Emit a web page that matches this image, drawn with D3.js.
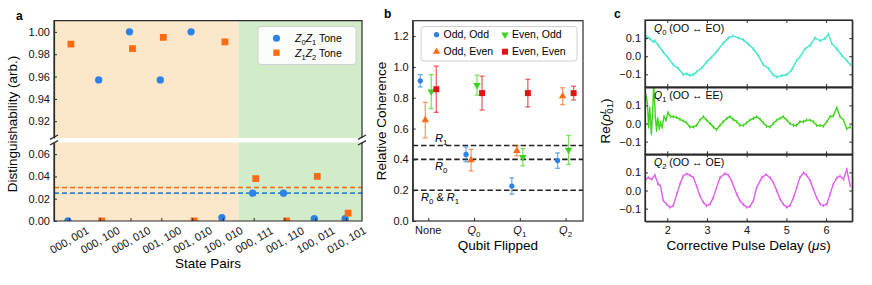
<!DOCTYPE html>
<html>
<head>
<meta charset="utf-8">
<script src="https://cdn.jsdelivr.net/npm/d3@7"></script>
<style>
  body { margin: 0; background: #fff; }
  svg { display: block; font-family: "Liberation Sans", Arial, sans-serif; }
</style>
</head>
<body>
<script>
// ---- panel a data ----
var statePairs = ["000, 001", "000, 100", "000, 010", "001, 100", "001, 010",
                  "100, 010", "000, 111", "001, 110", "100, 011", "010, 101"];
var z0z1Tone = [0.000, 0.957, 1.000, 0.957, 1.000, 0.003, 0.025, 0.025, 0.002, 0.002];
var z1z2Tone = [0.989, 0.000, 0.985, 0.995, 0.000, 0.991, 0.038, 0.000, 0.040, 0.007];
var z0z1Threshold = 0.025;
var z1z2Threshold = 0.030;
var nOrangeRegion = 6; // first six pairs sit on the orange background

// ---- panel b data ----
var qubitFlipped = ["None", "Q0", "Q1", "Q2"];
var oddOdd      = [0.910, 0.432, 0.227, 0.392];
var oddOddErr   = [0.040, 0.048, 0.053, 0.050];
var oddEven     = [0.655, 0.395, 0.455, 0.810];
var oddEvenErr  = [0.115, 0.070, 0.032, 0.055];
var evenOdd     = [0.840, 0.882, 0.414, 0.461];
var evenOddErr  = [0.110, 0.065, 0.056, 0.094];
var evenEven    = [0.855, 0.830, 0.830, 0.830];
var evenEvenErr = [0.150, 0.110, 0.090, 0.045];
var refLevels = [0.49, 0.40, 0.20];

// ---- panel c data ----
var q0Delay = [1.48, 1.56, 1.65, 1.69, 1.77, 1.90, 2.03, 2.15, 2.28, 2.40, 2.49, 2.57, 2.66, 2.74,
               2.87, 2.99, 3.12, 3.24, 3.41, 3.54, 3.66, 3.79, 3.92, 4.04, 4.17, 4.29, 4.42, 4.55,
               4.67, 4.76, 4.88, 5.01, 5.13, 5.26, 5.34, 5.47, 5.60, 5.72, 5.85, 5.97, 6.06, 6.14,
               6.27, 6.39, 6.52, 6.61];
var q0Re = [0.108, 0.097, 0.079, 0.086, 0.061, 0.022, -0.011, -0.047, -0.068, -0.101, -0.097, -0.106,
            -0.101, -0.086, -0.065, -0.032, -0.005, 0.025, 0.072, 0.101, 0.112, 0.101, 0.090, 0.067,
            0.040, 0.004, -0.047, -0.068, -0.104, -0.115, -0.108, -0.101, -0.077, -0.023, -0.005,
            0.040, 0.061, 0.101, 0.085, 0.097, 0.121, 0.072, 0.040, 0.007, -0.023, -0.047];
var q1Delay = [1.46, 1.50, 1.53, 1.56, 1.60, 1.63, 1.66, 1.70, 1.73, 1.76, 1.80, 1.83, 1.87, 1.92,
               1.97, 2.02, 2.08, 2.15, 2.24, 2.32, 2.40, 2.49, 2.57, 2.66, 2.74, 2.82, 2.91, 2.99,
               3.08, 3.16, 3.24, 3.33, 3.41, 3.50, 3.58, 3.66, 3.75, 3.83, 3.92, 4.00, 4.08, 4.17,
               4.25, 4.34, 4.42, 4.50, 4.59, 4.67, 4.76, 4.84, 4.92, 5.01, 5.09, 5.18, 5.26, 5.34,
               5.43, 5.51, 5.60, 5.68, 5.76, 5.85, 5.93, 6.02, 6.10, 6.18, 6.27, 6.35, 6.44, 6.52, 6.61];
var q1Re = [0.162, 0.114, -0.019, 0.086, -0.057, 0.057, 0.219, 0.038, -0.038, 0.029, -0.029, 0.004,
            -0.019, 0.038, 0.019, 0.061, 0.038, 0.038, 0.034, 0.023, 0.015, 0.004, -0.019, -0.019,
            -0.010, 0.019, 0.038, 0.019, 0.000, -0.019, -0.034, -0.010, 0.010, 0.029, 0.038, 0.023,
            0.010, -0.010, -0.010, 0.004, 0.019, 0.029, 0.038, 0.023, 0.004, -0.015, -0.019, 0.000,
            0.019, 0.029, 0.038, 0.019, 0.000, -0.010, -0.010, 0.010, 0.010, 0.019, 0.019, 0.010,
            -0.010, -0.010, -0.015, 0.010, 0.038, 0.042, 0.086, 0.038, 0.019, -0.029, -0.019];
var q2Delay = [1.46, 1.52, 1.61, 1.69, 1.77, 1.83, 1.90, 1.98, 2.07, 2.15, 2.24, 2.32, 2.40, 2.49,
               2.57, 2.66, 2.74, 2.82, 2.91, 2.99, 3.08, 3.16, 3.24, 3.33, 3.45, 3.54, 3.62, 3.75,
               3.83, 3.92, 4.00, 4.08, 4.17, 4.25, 4.38, 4.49, 4.59, 4.67, 4.76, 4.84, 4.92, 5.01,
               5.09, 5.18, 5.26, 5.34, 5.43, 5.51, 5.60, 5.68, 5.76, 5.85, 5.93, 6.02, 6.10, 6.18,
               6.27, 6.35, 6.44, 6.52, 6.61];
var q2Re = [0.062, 0.071, 0.062, 0.085, 0.035, 0.025, -0.056, -0.075, -0.093, -0.084, -0.020, 0.035,
            0.080, 0.093, 0.085, 0.071, 0.025, -0.029, -0.065, -0.084, -0.075, -0.038, 0.016, 0.071,
            0.093, 0.085, 0.053, -0.020, -0.056, -0.078, -0.093, -0.089, -0.056, 0.016, 0.071, 0.089,
            0.071, 0.044, -0.002, -0.047, -0.075, -0.093, -0.084, -0.038, 0.016, 0.071, 0.098, 0.085,
            0.053, 0.007, -0.038, -0.075, -0.084, -0.075, -0.020, 0.035, 0.071, 0.080, 0.062, 0.116, 0.025];
var delayTicks = [2, 3, 4, 5, 6];
var reTicks = [-0.1, 0.0, 0.1];

var blue = "#2d82ea", orange = "#ff6a12", green = "#3ad41c", red = "#e01414";
var ink = "#2b2b2b";

var svg = d3.select("body").append("svg").attr("width", 872).attr("height", 285);

// write italic / sub / sup pieces into a text element
function rich(sel, parts) {
  var shift = 0;
  parts.forEach(function (p) {
    var kind = p[1] || "";
    var t = sel.append("tspan").text(p[0]);
    var target = kind.indexOf("sub") >= 0 ? 3 : (kind.indexOf("sup") >= 0 ? -4 : 0);
    if (target !== shift) { t.attr("dy", target - shift); shift = target; }
    if (target !== 0) t.attr("font-size", "0.72em");
    if (kind.charAt(0) === "i") t.attr("font-style", "italic");
    if (p[2]) t.attr("dx", p[2]);
  });
}

function styleAxis(g) {
  g.selectAll(".domain").attr("stroke", ink).attr("stroke-width", 1.2);
  g.selectAll(".tick line").attr("stroke", ink).attr("stroke-width", 1);
  g.selectAll(".tick text").attr("fill", "#111").attr("font-size", 11);
}

// ================= panel a =================
var aL = 54, aR = 362;
var xA = d3.scaleBand().domain(statePairs).range([aL, aR]);
var yTop = d3.scaleLinear().domain([0.905, 1.01]).range([138, 20.7]);
var yBot = d3.scaleLinear().domain([0, 0.0706]).range([221, 142.3]);
var segs = [
  { y: yTop, y0: 20.7, y1: 138, ticks: [0.92, 0.94, 0.96, 0.98, 1.00] },
  { y: yBot, y0: 142.3, y1: 221, ticks: [0.00, 0.02, 0.04, 0.06] }
];
var xSplit = xA(statePairs[nOrangeRegion]);

segs.forEach(function (s, i) {
  var clipId = "clipA" + i;
  svg.append("clipPath").attr("id", clipId).append("rect")
    .attr("x", aL).attr("y", s.y0).attr("width", aR - aL).attr("height", s.y1 - s.y0);
  s.g = svg.append("g").attr("clip-path", "url(#" + clipId + ")");
  s.g.append("rect").attr("x", aL).attr("y", s.y0).attr("width", xSplit - aL)
    .attr("height", s.y1 - s.y0).attr("fill", "#fde7ca");
  s.g.append("rect").attr("x", xSplit).attr("y", s.y0).attr("width", aR - xSplit)
    .attr("height", s.y1 - s.y0).attr("fill", "#d2ebc9");
  var ax = svg.append("g").attr("transform", "translate(" + aL + ",0)")
    .call(d3.axisLeft(s.y).tickValues(s.ticks).tickFormat(d3.format(".2f")).tickSize(-3).tickSizeOuter(0).tickPadding(4));
  styleAxis(ax);
});

// threshold lines
[[z1z2Threshold, orange], [z0z1Threshold, blue]].forEach(function (d) {
  segs[1].g.append("line").attr("x1", aL).attr("x2", aR)
    .attr("y1", yBot(d[0])).attr("y2", yBot(d[0]))
    .attr("stroke", d[1]).attr("stroke-width", 1.6).attr("stroke-dasharray", "5,3");
});

function drawA(values, shape, color, dx) {
  values.forEach(function (v, i) {
    var s = v > 0.5 ? segs[0] : segs[1];
    var cx = xA(statePairs[i]) + xA.bandwidth() / 2 + dx;
    s.g.append("path")
      .attr("d", d3.symbol().type(shape).size(shape === d3.symbolSquare ? 46 : 42)())
      .attr("transform", "translate(" + cx + "," + s.y(v) + ")")
      .attr("fill", color);
  });
}
drawA(z0z1Tone, d3.symbolCircle, blue, -1.5);
drawA(z1z2Tone, d3.symbolSquare, orange, 1.5);

// spines for the broken axis
var spine = svg.append("g").attr("fill", "none").attr("stroke", ink).attr("stroke-width", 1.2);
spine.append("path").attr("d", "M" + aL + ",138V20.7H" + aR + "V138");
spine.append("path").attr("d", "M" + aL + ",142.3V221H" + aR + "V142.3");
[aL, aR].forEach(function (x) {
  [137.2, 142.8].forEach(function (y) {
    spine.append("line").attr("x1", x - 4).attr("y1", y + 2.2).attr("x2", x + 4).attr("y2", y - 2.2);
  });
});

var axA = svg.append("g").attr("transform", "translate(0,221)")
  .call(d3.axisBottom(xA).tickSize(-3).tickSizeOuter(0).tickFormat(""));
styleAxis(axA);
axA.select(".domain").remove();
svg.append("g").selectAll("text").data(statePairs).enter().append("text")
  .attr("transform", function (d) {
    return "translate(" + (xA(d) + xA.bandwidth() / 2) + ",240) rotate(-30)";
  })
  .attr("text-anchor", "middle").attr("dy", "0.35em").attr("font-size", 11).attr("fill", "#111")
  .text(function (d) { return d; });

svg.append("text").attr("x", (aL + aR) / 2).attr("y", 268).attr("text-anchor", "middle")
  .attr("font-size", 13.5).text("State Pairs");
svg.append("text").attr("transform", "translate(17,124) rotate(-90)").attr("text-anchor", "middle")
  .attr("font-size", 13.5).text("Distinguishability (arb.)");
svg.append("text").attr("x", 16).attr("y", 20).attr("font-weight", "bold").attr("font-size", 12).text("a");

// legend a
svg.append("rect").attr("x", 258).attr("y", 26.5).attr("width", 98).attr("height", 38).attr("rx", 3)
  .attr("fill", "#fff").attr("fill-opacity", 0.9).attr("stroke", "#d0d0d0");
[[d3.symbolCircle, blue, "0", "1"], [d3.symbolSquare, orange, "1", "2"]].forEach(function (d, i) {
  var y = 38.3 + i * 14.4;
  svg.append("path").attr("d", d3.symbol().type(d[0]).size(40)())
    .attr("transform", "translate(276.5," + y + ")").attr("fill", d[1]);
  var t = svg.append("text").attr("x", 295).attr("y", y + 3.8).attr("font-size", 10.5);
  rich(t, [["Z", "i"], [d[2], "sub"], ["Z", "i"], [d[3], "sub"], [" Tone", ""]]);
});

// ================= panel b =================
var bL = 412.7, bR = 583, bT = 20.7, bB = 221;
var xB = d3.scaleLinear().domain([-0.34, 3.38]).range([bL, bR]);
var yB = d3.scaleLinear().domain([0, 1.3]).range([bB, bT]);

var gb = svg.append("g");
refLevels.forEach(function (v) {
  gb.append("line").attr("x1", bL).attr("x2", bR).attr("y1", yB(v)).attr("y2", yB(v))
    .attr("stroke", "#222").attr("stroke-width", 1.6).attr("stroke-dasharray", "5.5,2.8");
});

var triDown = { draw: function (ctx, size) { d3.symbolTriangle.draw(ctx, size); } };
var seriesB = [
  { v: oddOdd, e: oddOddErr, c: blue, shape: d3.symbolCircle, size: 22, rot: 0, dx: -0.175, name: "Odd, Odd" },
  { v: oddEven, e: oddEvenErr, c: orange, shape: d3.symbolTriangle, size: 24, rot: 0, dx: -0.065, name: "Odd, Even" },
  { v: evenOdd, e: evenOddErr, c: green, shape: d3.symbolTriangle, size: 24, rot: 180, dx: 0.065, name: "Even, Odd" },
  { v: evenEven, e: evenEvenErr, c: red, shape: d3.symbolSquare, size: 36, rot: 0, dx: 0.175, name: "Even, Even" }
];
seriesB.forEach(function (s) {
  s.v.forEach(function (v, i) {
    var cx = xB(i + s.dx), lo = yB(v - s.e[i]), hi = yB(v + s.e[i]);
    var eb = gb.append("g").attr("stroke", s.c).attr("stroke-opacity", 0.65).attr("stroke-width", 1.3);
    eb.append("line").attr("x1", cx).attr("x2", cx).attr("y1", lo).attr("y2", hi);
    eb.append("line").attr("x1", cx - 2.5).attr("x2", cx + 2.5).attr("y1", lo).attr("y2", lo);
    eb.append("line").attr("x1", cx - 2.5).attr("x2", cx + 2.5).attr("y1", hi).attr("y2", hi);
    gb.append("path").attr("d", d3.symbol().type(s.shape).size(s.size)())
      .attr("transform", "translate(" + cx + "," + yB(v) + ") rotate(" + s.rot + ")")
      .attr("fill", s.c);
  });
});

var byAx = svg.append("g").attr("transform", "translate(" + bL + ",0)")
  .call(d3.axisLeft(yB).tickValues([0, 0.2, 0.4, 0.6, 0.8, 1.0, 1.2]).tickFormat(d3.format(".1f"))
    .tickSize(-3).tickSizeOuter(0).tickPadding(4));
styleAxis(byAx);
var bxAx = svg.append("g").attr("transform", "translate(0," + bB + ")")
  .call(d3.axisBottom(xB).tickValues([0, 1, 2, 3]).tickSize(-3).tickSizeOuter(0).tickFormat(""));
styleAxis(bxAx);
bxAx.select(".domain").remove();
qubitFlipped.forEach(function (q, i) {
  var t = svg.append("text").attr("x", xB(i)).attr("y", 233.5).attr("text-anchor", "middle")
    .attr("font-size", 11).attr("fill", "#111");
  if (q === "None") t.text(q);
  else rich(t, [["Q", "i"], [q.slice(1), "sub"]]);
});
svg.append("rect").attr("x", bL).attr("y", bT).attr("width", bR - bL).attr("height", bB - bT)
  .attr("fill", "none").attr("stroke", ink).attr("stroke-width", 1.2);

var rl1 = svg.append("text").attr("x", 435).attr("y", 142).attr("font-size", 11);
rich(rl1, [["R", "i"], ["1", "sub"]]);
var rl0 = svg.append("text").attr("x", 435).attr("y", 170).attr("font-size", 11);
rich(rl0, [["R", "i"], ["0", "sub"]]);
var rl01 = svg.append("text").attr("x", 421).attr("y", 201).attr("font-size", 11);
rich(rl01, [["R", "i"], ["0", "sub"], [" & ", ""], ["R", "i"], ["1", "sub"]]);

svg.append("text").attr("x", (bL + bR) / 2).attr("y", 250).attr("text-anchor", "middle")
  .attr("font-size", 13.5).text("Qubit Flipped");
svg.append("text").attr("transform", "translate(386,121) rotate(-90)").attr("text-anchor", "middle")
  .attr("font-size", 13.5).text("Relative Coherence");
svg.append("text").attr("x", 384).attr("y", 18).attr("font-weight", "bold").attr("font-size", 12).text("b");

// legend b
svg.append("rect").attr("x", 421).attr("y", 26.5).attr("width", 156).attr("height", 34.5).attr("rx", 3)
  .attr("fill", "#fff").attr("fill-opacity", 0.9).attr("stroke", "#d0d0d0");
[[0, 0], [0, 1], [1, 0], [1, 1]].forEach(function (pos, k) {
  var s = seriesB[[0, 1, 2, 3][k]];
  var order = [seriesB[0], seriesB[1], seriesB[2], seriesB[3]];
  s = order[k];
  var mx = pos[0] ? 505 : 436.5, y = pos[1] ? 51.7 : 34.7;
  svg.append("path").attr("d", d3.symbol().type(s.shape).size(s.size)())
    .attr("transform", "translate(" + mx + "," + y + ") rotate(" + s.rot + ")").attr("fill", s.c);
  svg.append("text").attr("x", mx + 7).attr("y", y + 3.6).attr("font-size", 10.5).text(s.name);
});

// ================= panel c =================
var cL = 645, cR = 852.3;
var xC = d3.scaleLinear().domain([1.44, 6.66]).range([cL, cR]);
var rowsC = [
  { t: q0Delay, v: q0Re, c: "#3de6cc", err: 0.009, top: 20, lab: ["0", "EO"] },
  { t: q1Delay, v: q1Re, c: "#3ed41a", err: 0.009, top: 87.3, lab: ["1", "EE"] },
  { t: q2Delay, v: q2Re, c: "#e25cf2", err: 0.008, top: 154.3, lab: ["2", "OE"] }
];
var rowH = 67;
rowsC.forEach(function (r, i) {
  var y = d3.scaleLinear().domain([-0.17, 0.2]).range([r.top + rowH, r.top]);
  var clipId = "clipC" + i;
  svg.append("clipPath").attr("id", clipId).append("rect")
    .attr("x", cL).attr("y", r.top).attr("width", cR - cL).attr("height", rowH);
  var g = svg.append("g").attr("clip-path", "url(#" + clipId + ")");
  var pts = r.t.map(function (t, k) { return [t, r.v[k]]; });
  g.append("path").datum(pts)
    .attr("d", d3.line().x(function (d) { return xC(d[0]); }).y(function (d) { return y(d[1]); }))
    .attr("fill", "none").attr("stroke", r.c).attr("stroke-width", 1.4);
  g.selectAll(".eb").data(pts).enter().append("line")
    .attr("x1", function (d) { return xC(d[0]); }).attr("x2", function (d) { return xC(d[0]); })
    .attr("y1", function (d) { return y(d[1] - r.err); }).attr("y2", function (d) { return y(d[1] + r.err); })
    .attr("stroke", r.c).attr("stroke-width", 1);

  var ly = svg.append("g").attr("transform", "translate(" + cL + ",0)")
    .call(d3.axisLeft(y).tickValues(reTicks).tickFormat(d3.format(".1f")).tickSize(-3).tickSizeOuter(0).tickPadding(4));
  styleAxis(ly);
  var ry = svg.append("g").attr("transform", "translate(" + cR + ",0)")
    .call(d3.axisRight(y).tickValues(reTicks).tickFormat("").tickSize(-3).tickSizeOuter(0));
  styleAxis(ry);
  var tx = svg.append("g").attr("transform", "translate(0," + r.top + ")")
    .call(d3.axisTop(xC).tickValues(delayTicks).tickFormat("").tickSize(-3).tickSizeOuter(0));
  styleAxis(tx);
  var bx = svg.append("g").attr("transform", "translate(0," + (r.top + rowH) + ")")
    .call(d3.axisBottom(xC).tickValues(delayTicks).tickFormat(i === 2 ? d3.format("d") : "")
      .tickSize(-3).tickSizeOuter(0).tickPadding(5));
  styleAxis(bx);
  svg.append("rect").attr("x", cL).attr("y", r.top).attr("width", cR - cL).attr("height", rowH)
    .attr("fill", "none").attr("stroke", ink).attr("stroke-width", 1.2);

  var lt = svg.append("text").attr("x", 654).attr("y", r.top + 12).attr("font-size", 10.5);
  rich(lt, [["Q", "i"], [r.lab[0], "sub"], [" (OO \u2194 " + r.lab[1] + ")", ""]]);
});

svg.append("text").attr("x", (cL + cR) / 2).attr("y", 250).attr("text-anchor", "middle")
  .attr("font-size", 13.5).call(function (t) {
    rich(t, [["Corrective Pulse Delay (", ""], ["\u03bcs", "i"], [")", ""]]);
  });
svg.append("text").attr("transform", "translate(610,121) rotate(-90)").attr("text-anchor", "middle")
  .attr("font-size", 13.5).call(function (t) {
    rich(t, [["Re(", ""], ["\u03c1", "i"], ["L", "isup"], ["01", "sub", -5], [")", ""]]);
  });
svg.append("text").attr("x", 614).attr("y", 18).attr("font-weight", "bold").attr("font-size", 12).text("c");
</script>
</body>
</html>
